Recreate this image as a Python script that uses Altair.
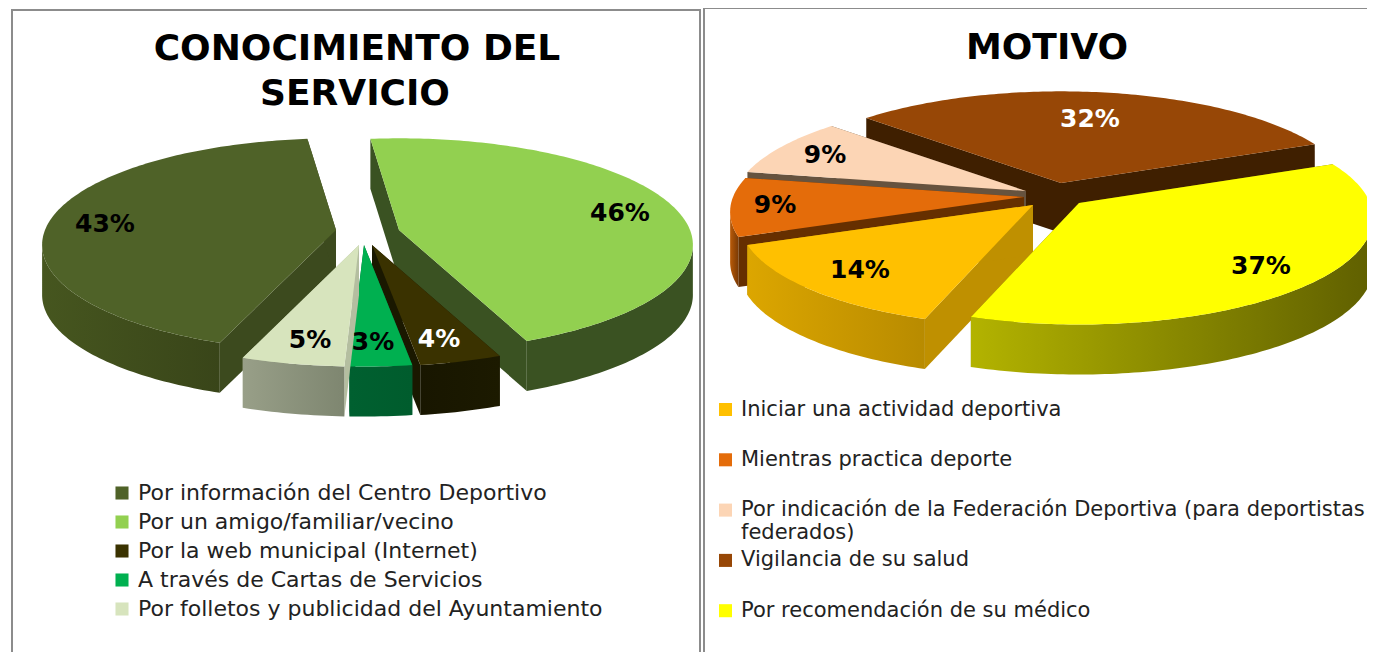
import math
import altair as alt

# ---------- values ----------
CONOC_LABELS = ["Por información del Centro Deportivo", "Por un amigo/familiar/vecino",
                "Por la web municipal (Internet)", "A través de Cartas de Servicios",
                "Por  folletos y publicidad del Ayuntamiento"]
CONOC_VALUES = [43, 46, 4, 3, 5]
MOTIVO_LABELS = ["Iniciar una actividad deportiva", "Mientras practica deporte",
                 "Por indicación de la Federación Deportiva (para deportistas federados)",
                 "Vigilancia de su salud", "Por recomendación de su médico"]
MOTIVO_VALUES = [14, 9, 9, 32, 37]

# ---------- styles ----------
CONOC_COLORS = ["#4f6228", "#92d050", "#3a3200", "#00b050", "#d7e4bd"]
CONOC_CUT = ["#3c4a1e", "#3a5222", "#1a1800", "#006030", "#b4bea0"]
CONOC_OUTER = [("#46561f", "#394519"), ("#3a5222", "#3a5222"), ("#181600", "#1c1a00"),
               ("#006030", "#005c2d"), ("#989f88", "#7e8670")]
MOTIVO_COLORS = ["#ffc000", "#e46c0a", "#fcd5b5", "#974706", "#ffff00"]
MOTIVO_CUT = ["#bf9000", "#662f00", "#66533f", "#3f1f00", "#666600"]
MOTIVO_OUTER = [("#dca600", "#b88b00"), ("#b85a08", "#7a3a05"), ("#66533f", "#66533f"),
                ("#3f1f00", "#3f1f00"), ("#b3b300", "#5f5f00")]

# ---------- layout (page pixels) ----------
ORIGIN = 8
K, A, B, DEPTH = 0.14, 291, 104.5, 50
CONOC_START = 200.3       # clockwise angle where the first slice begins
MOTIVO_START = 198.8
CONOC_APEX = [(336, 230), (399, 230), (372, 245), (364, 245), (359, 245)]
MOTIVO_APEX = [(1033, 205), (1024, 197), (1026, 191), (1061, 183), (1079, 203)]
CONOC_ORDER = [0, 1, 2, 3, 4]
MOTIVO_ORDER = [3, 2, 1, 0, 4]
CONOC_LABEL_XY = [(105, 224), (620, 213), (439, 339), (373, 342), (310, 340)]
MOTIVO_LABEL_XY = [(860, 270), (775, 205), (825, 155), (1090, 119), (1261, 266)]
CONOC_LABEL_COLOR = ["black", "black", "white", "black", "black"]
MOTIVO_LABEL_COLOR = ["black", "black", "black", "white", "black"]
LABEL_SIZE, TITLE_SIZE = 25, 36


def project(t, apex):
    X, Y = math.sin(math.radians(t)), math.cos(math.radians(t))
    w = 1 + K * Y
    return (apex[0] + A * X / w, apex[1] - B * Y / w)


def polygon(points, cat):
    ring = [list(p) for p in points] + [list(points[0])]
    return {"type": "Feature", "cat": cat, "properties": {"cat": cat},
            "geometry": {"type": "Polygon", "coordinates": [ring]}}


def shape_layer(features, fill):
    return alt.Chart(alt.Data(values=features)).mark_geoshape(fill=fill, strokeWidth=0, stroke=None).project(
        type="identity", scale=1, translate=[-ORIGIN, -ORIGIN])


def pie_layers(labels, values, colors, cuts, outers, apexes, start, order, legend):
    total = sum(values)
    spans = [360 * v / total for v in values]
    starts, cur = [], start
    for s in spans:
        starts.append(cur)
        cur += s
    layers = []
    scale = alt.Scale(domain=labels, range=colors)
    for i in order:
        t0, t1, apex = starts[i], starts[i] + spans[i], apexes[i]
        n = max(4, int(spans[i]))
        ts = [t0 + (t1 - t0) * j / n for j in range(n + 1)]
        arc = [project(t, apex) for t in ts]
        drop = lambda p: (p[0], p[1] + DEPTH)
        # the two cut faces
        cut = [polygon([apex, p, drop(p), drop(apex)], labels[i]) for p in (arc[0], arc[-1])]
        layers.append(shape_layer(cut, cuts[i]))
        # the visible, front part of the rim
        front = [t for t in ts if math.cos(math.radians(t)) < -K + 0.02]
        if len(front) > 1:
            rim = [project(t, apex) for t in front]
            grad = alt.LinearGradient(gradient="linear", x1=0, x2=1, y1=0, y2=0,
                                      stops=[alt.GradientStop(color=outers[i][0], offset=0),
                                             alt.GradientStop(color=outers[i][1], offset=1)])
            layers.append(shape_layer([polygon(rim + [drop(p) for p in reversed(rim)], labels[i])], grad))
        # the top face, which carries the legend colour
        top = alt.Chart(alt.Data(values=[polygon([apex] + arc, labels[i])])).mark_geoshape(
            strokeWidth=0, stroke=None).encode(
            color=alt.Color("properties.cat:N", scale=scale, legend=legend)
        ).project(type="identity", scale=1, translate=[-ORIGIN, -ORIGIN])
        layers.append(top)
    return layers


def text_layer(rows, **mark):
    return alt.Chart(alt.Data(values=rows)).mark_text(**mark).encode(
        x=alt.X("x:Q", scale=None, axis=None),
        y=alt.Y("y:Q", scale=None, axis=None),
        text="t:N",
        color=alt.Color("c:N", scale=None, legend=None),
    )


def label_layer(values, xy, cols):
    rows = [{"x": p[0] - ORIGIN, "y": p[1] - ORIGIN, "t": f"{v}%", "c": c} for v, p, c in zip(values, xy, cols)]
    return text_layer(rows, font="DejaVu Sans", fontWeight="bold", fontSize=LABEL_SIZE, align="center", baseline="middle")


def title_layer(lines):
    rows = [{"x": x - ORIGIN, "y": y - ORIGIN, "t": t, "c": "black"} for x, y, t in lines]
    return text_layer(rows, font="DejaVu Sans", fontWeight="bold", fontSize=TITLE_SIZE, align="center", baseline="middle")


def frame_layer(x1, y1, x2, y2):
    return alt.Chart(alt.Data(values=[{"x": x1 - ORIGIN, "y": y1 - ORIGIN, "x2": x2 - ORIGIN, "y2": y2 - ORIGIN}])).mark_rect(
        filled=False, stroke="#8c8c8c", strokeWidth=2).encode(
        x=alt.X("x:Q", scale=None, axis=None), x2="x2:Q",
        y=alt.Y("y:Q", scale=None, axis=None), y2="y2:Q")


left_legend = alt.Legend(title=None, orient="none", legendX=103, legendY=474, symbolType="square", symbolSize=170,
                         symbolStrokeWidth=0, labelFont="DejaVu Sans", labelFontSize=22, labelColor="#222222",
                         labelLimit=800, rowPadding=7, labelOffset=5, padding=0)
split_expr = "datum.label == '" + MOTIVO_LABELS[2] + "' ? ['Por indicación de la Federación Deportiva (para deportistas', 'federados)'] : datum.label"
right_legend = alt.Legend(title=None, orient="none", legendX=707, legendY=391, symbolType="square", symbolSize=170,
                          symbolStrokeWidth=0, labelFont="DejaVu Sans", labelFontSize=21, labelColor="#222222",
                          labelLimit=900, rowPadding=5.3, labelOffset=5, padding=0, labelExpr=split_expr, gridAlign="all")

left = alt.layer(
    frame_layer(12, 10, 700, 700),
    *pie_layers(CONOC_LABELS, CONOC_VALUES, CONOC_COLORS, CONOC_CUT, CONOC_OUTER, CONOC_APEX, CONOC_START, CONOC_ORDER, left_legend),
    label_layer(CONOC_VALUES, CONOC_LABEL_XY, CONOC_LABEL_COLOR),
    title_layer([(357, 49, "CONOCIMIENTO DEL"), (355, 94, "SERVICIO")]),
)
right = alt.layer(
    frame_layer(704, 8, 1500, 700),
    *pie_layers(MOTIVO_LABELS, MOTIVO_VALUES, MOTIVO_COLORS, MOTIVO_CUT, MOTIVO_OUTER, MOTIVO_APEX, MOTIVO_START, MOTIVO_ORDER, right_legend),
    label_layer(MOTIVO_VALUES, MOTIVO_LABEL_XY, MOTIVO_LABEL_COLOR),
    title_layer([(1047, 48, "MOTIVO")]),
)

chart = alt.layer(left, right).resolve_scale(color="independent").properties(
    width=1359, height=644, padding=0,
    autosize=alt.AutoSizeParams(type="none", contains="padding"),
).configure_view(stroke=None)

chart.save("out.html", embed_options={"renderer": "svg", "actions": False})
